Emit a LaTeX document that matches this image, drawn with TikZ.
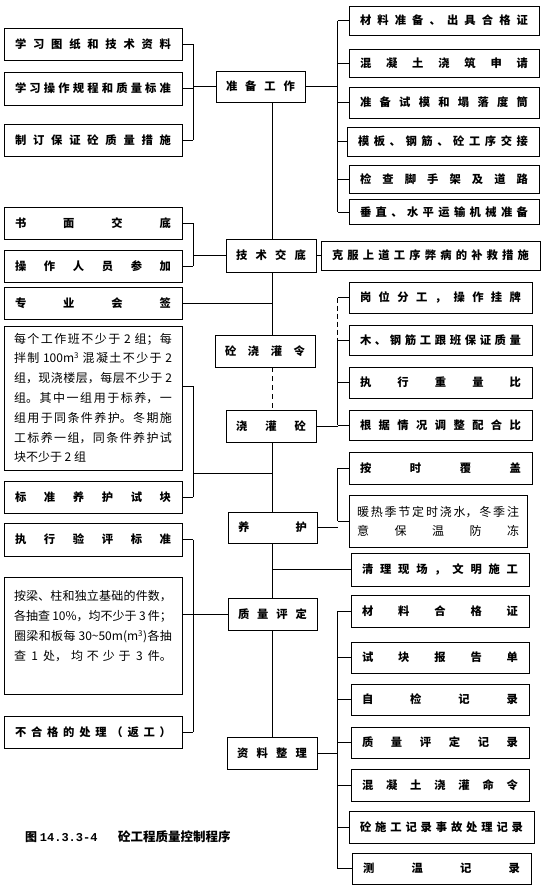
\documentclass[tikz,border=0pt]{standalone}
\usepackage{fontspec}
\setmainfont{Noto Sans CJK SC}
\newfontfamily\capmono{Liberation Mono}
\XeTeXlinebreaklocale "zh"
\XeTeXlinebreakskip=0pt plus 2pt
\makeatletter
\newcommand\spreadtext[1]{\spreadtext@#1\@nil}
\def\spreadtext@#1#2\@nil{#1\if\relax\detokenize{#2}\relax\else\hfill\spreadtext@#2\@nil\fi}
\makeatother
\tikzset{
 box/.style={draw, line width=0.8pt, inner xsep=11pt, inner ysep=0pt, minimum height=32pt,
   font=\bfseries\fontsize{11.3}{13}\selectfont},
 lbox/.style={box, text width=156pt},
 rbox/.style={box, text width=168pt, minimum height=31pt},
 cbox/.style={box, inner xsep=10pt, text width=70pt},
 note/.style={draw, line width=0.8pt, inner xsep=10pt, inner ysep=0pt, text width=158pt,
   align=justify, font=\fontsize{12}{19.8}\selectfont},
 link/.style={line width=0.8pt},
}
\begin{document}
\begin{tikzpicture}[x=1pt, y=-1pt]
    \fill[white] (0,0) rectangle (553,894);
    \useasboundingbox (0,0) rectangle (553,894);
    \coordinate (sp) at (272,0);
    \coordinate (lb) at (193,0);
    \coordinate (rb) at (337.5,0);

    % left column
    \node[lbox] (lt1) at (93,44) {\spreadtext{学习图纸和技术资料}};
    \node[lbox, minimum height=33pt] (lt2) at (93,88.5) {\spreadtext{学习操作规程和质量标准}};
    \node[lbox] (lt3) at (93,140) {\spreadtext{制订保证砼质量措施}};
    \node[lbox] (lm1) at (93,223) {\spreadtext{书面交底}};
    \node[lbox] (lm2) at (93,266) {\spreadtext{操作人员参加}};
    \node[lbox] (lm3) at (93,303) {\spreadtext{专业会签}};
    \node[note, minimum height=144pt] (lm4) at (93,398) {每个工作班不少于 2 组；每\linebreak
        拌制 100m\textsuperscript{3} 混凝土不少于 2\linebreak
        组，现浇楼层，每层不少于 2\linebreak
        组。其中一组用于标养，一\linebreak
        组用于同条件养护。冬期施\linebreak
        工标养一组，同条件养护试\linebreak
        块不少于 2 组};
    \node[lbox] (lm5) at (93,497) {\spreadtext{标准养护试块}};
    \node[lbox, minimum height=33pt] (lb1) at (93,539.5) {\spreadtext{执行验评标准}};
    \node[note, minimum height=117pt] (lb2) at (93,635.5) {\parfillskip=0pt
        按梁、柱和独立基础的件数，\linebreak
        各抽查 10\%，均不少于 3 件；\linebreak
        圈梁和板每 30\textasciitilde 50m(m\textsuperscript{3})各抽\linebreak
        查 1 处，均不少于 3 件。\par\mbox{}};
    \node[lbox] (lb3) at (93,732) {\spreadtext{不合格的处理（返工）}};

    % middle column
    \node[cbox, text width=69pt, minimum height=31pt] (zb) at (260.5,86.5) {\spreadtext{准备工作}};
    \node[cbox, minimum height=33pt] (jd) at (271,255.5) {\spreadtext{技术交底}};
    \node[cbox, text width=80pt] (jl) at (265,351) {\spreadtext{砼浇灌令}};
    \node[cbox] (jg) at (271,426) {\spreadtext{浇灌砼}};
    \node[cbox, text width=69pt, minimum height=31pt] (yh) at (272.5,527.5) {\spreadtext{养护}};
    \node[cbox, text width=69pt] (zp) at (272.5,614) {\spreadtext{质量评定}};
    \node[cbox] (zl) at (272,753) {\spreadtext{资料整理}};

    % right column
    \node[rbox, minimum height=29pt] (r1) at (444,20.5) {\spreadtext{材料准备、出具合格证}};
    \node[rbox, minimum height=28pt] (r2) at (444,63) {\spreadtext{混凝土浇筑申请}};
    \node[rbox] (r3) at (444,102.5) {\spreadtext{准备试模和塌落度筒}};
    \node[rbox, text width=170pt, minimum height=29pt] (r4) at (443,141.5) {\spreadtext{模板、钢筋、砼工序交接}};
    \node[rbox, minimum height=28pt] (r5) at (444,179) {\spreadtext{检查脚手架及道路}};
    \node[rbox, minimum height=25pt] (r6) at (444,212) {\spreadtext{垂直、水平运输机械准备}};
    \node[rbox, text width=197pt, minimum height=29pt] (kf) at (430.5,255.5) {\spreadtext{克服上道工序弊病的补救措施}};
    \node[rbox, text width=161pt] (r7) at (440.5,297.5) {\spreadtext{岗位分工，操作挂牌}};
    \node[rbox, text width=161pt, minimum height=30pt] (r8) at (440.5,340) {\spreadtext{木、钢筋工跟班保证质量}};
    \node[rbox, text width=161pt] (r9) at (440.5,382.5) {\spreadtext{执行重量比}};
    \node[rbox, text width=161pt, minimum height=30pt] (r10) at (440.5,425) {\spreadtext{根据情况调整配合比}};
    \node[rbox, text width=161pt, minimum height=32pt] (r11) at (440.5,468) {\spreadtext{按时覆盖}};
    \node[note, inner xsep=8pt, text width=162pt, minimum height=52pt, font=\fontsize{12}{19}\selectfont]
        (r12) at (438,521) {暖热季节定时浇水，冬季注\linebreak\spreadtext{意保温防冻}};
    \node[rbox, text width=156pt, minimum height=33pt] (r13) at (440,569.5) {\spreadtext{清理现场，文明施工}};
    \node[rbox, text width=156pt, minimum height=32pt] (r14) at (440,611) {\spreadtext{材料合格证}};
    \node[rbox, text width=156pt] (r15) at (440,657.5) {\spreadtext{试块报告单}};
    \node[rbox, text width=156pt] (r16) at (440,699.5) {\spreadtext{自检记录}};
    \node[rbox, text width=156pt] (r17) at (440,742.5) {\spreadtext{质量评定记录}};
    \node[rbox, text width=156pt, minimum height=32pt] (r18) at (440,785) {\spreadtext{混凝土浇灌命令}};
    \node[rbox, text width=163pt, minimum height=32pt] (r19) at (441.5,827) {\spreadtext{砼施工记录事故处理记录}};
    \node[rbox, text width=157pt] (r20) at (441.5,868.5) {\spreadtext{测温记录}};

    % caption
    \node[anchor=west, inner sep=0pt, font=\bfseries\fontsize{12}{13}\selectfont] (fig) at (25,837) {图 {\capmono 14.3.3-4}};
    \node[anchor=west, inner sep=0pt, font=\bfseries\fontsize{12.5}{14}\selectfont] (title) at (118,837) {砼工程质量控制程序};

    % spine
    \draw[link] (zb.south -| sp) -- (jd.north -| sp);
    \draw[link] (jd.south -| sp) -- (jl.north -| sp);
    \draw[link, dash pattern=on 5pt off 4pt] (jl.south -| sp) -- (jg.north -| sp);
    \draw[link] (jg.south -| sp) -- (yh.north -| sp);
    \draw[link] (yh.south -| sp) -- (zp.north -| sp);
    \draw[link] (zp.south -| sp) -- (zl.north -| sp);

    % left brackets
    \foreach \n in {lt1,lt2,lt3,lm1,lm2,lm5,lb1,lb3}
        \draw[link] (\n.east) -- (\n.east -| lb);
    \draw[link] (lt1.east -| lb) -- (lt3.east -| lb);
    \draw[link] (zb.west -| lb) -- (zb.west);
    \draw[link] (lm1.east -| lb) -- (lm2.east -| lb);
    \draw[link] (jd.west -| lb) -- (jd.west);
    \draw[link] (lm3.east) -- (lm3.east -| sp);
    \coordinate (j4) at ([yshift=12pt]lm4.east);
    \coordinate (j5) at (193,473);
    \draw[link] (j4) -- (j4 -| lb) -- (lm5.east -| lb);
    \draw[link] (j5) -- (j5 -| sp);
    \draw[link] (lb1.east -| lb) -- (lb3.east -| lb);
    \draw[link] (lb2.east |- zp.west) -- (zp.west);

    % right brackets
    \foreach \n in {r1,r2,r3,r4,r5,r6,r7,r8,r9,r10,r11,r12,r14,r15,r16,r17,r18,r19,r20}
        \draw[link] (\n.west) -- (\n.west -| rb);
    \draw[link] (r1.west -| rb) -- (r6.west -| rb);
    \draw[link] (zb.east) -- (zb.east -| rb);
    \draw[link] (jd.east) -- (kf.west);
    \draw[link, dash pattern=on 5pt off 3pt] (r7.west -| rb) -- (r8.west -| rb);
    \draw[link] (r8.west -| rb) -- (r10.west -| rb);
    \draw[link] (jg.east) -- (jg.east -| rb);
    \draw[link] (r11.west -| rb) -- (r12.west -| rb);
    \draw[link] (yh.east) -- (yh.east -| rb);
    \draw[link] (r13.west -| sp) -- (r13.west);
    \draw[link] (r14.west -| rb) -- (r20.west -| rb);
    \draw[link] (zl.east) -- (zl.east -| rb);
\end{tikzpicture}
\end{document}
